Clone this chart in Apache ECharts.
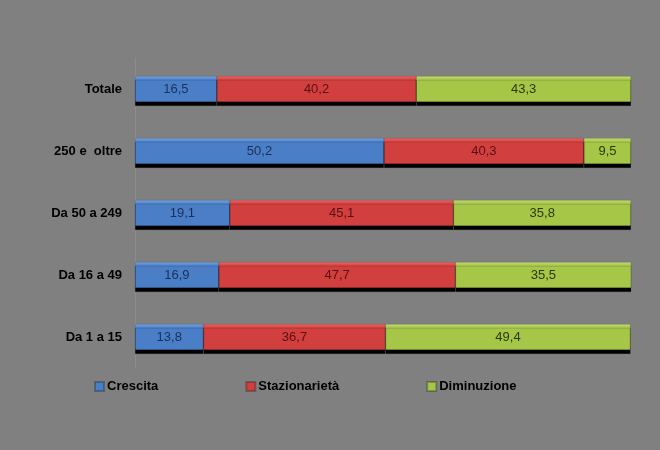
<!DOCTYPE html>
<html><head><meta charset="utf-8">
<script src="https://cdn.jsdelivr.net/npm/echarts@6/dist/echarts.min.js"></script>
<style>html,body{margin:0;padding:0;background:#808080;}#c{width:660px;height:450px;}</style>
</head><body><div id="c"></div>
<script>
var categories = ['Da 1 a 15', 'Da 16 a 49', 'Da 50 a 249', '250 e  oltre', 'Totale'];
var crescita = [13.8, 16.9, 19.1, 50.2, 16.5];
var stazionarieta = [36.7, 47.7, 45.1, 40.3, 40.2];
var diminuzione = [49.4, 35.5, 35.8, 9.5, 43.3];
var seriesNames = ['Crescita', 'Stazionarietà', 'Diminuzione'];

function grad(top, bot) {
  return new echarts.graphic.LinearGradient(0, 0, 0, 1, [
    {offset: 0, color: top}, {offset: 0.15, color: bot}, {offset: 1, color: bot}
  ]);
}
var fills = [grad('#7aa6e0', '#4a7fc8'), grad('#ee6a68', '#d23f3f'), grad('#c2dc74', '#a6c648')];
var legendColors = ['#4a7fc8', '#d23f3f', '#a6c648'];
var labelColors = ['#1a2f5a', '#5a1010', '#2a3a08'];
var datasets = [crescita, stazionarieta, diminuzione];

var chart = echarts.init(document.getElementById('c'), null, {renderer: 'canvas'});
chart.setOption({
  backgroundColor: '#808080',
  animation: false,
  grid: {left: 135, right: 29, top: 58, bottom: 82},
  xAxis: {type: 'value', min: 0, max: 100, show: false},
  yAxis: {
    type: 'category', data: categories,
    axisLine: {show: true, lineStyle: {color: '#8c8c8c', width: 1}},
    axisTick: {show: false},
    axisLabel: {color: '#000', fontWeight: 'bold', fontSize: 13, fontFamily: 'Liberation Sans', margin: 13}
  },
  legend: {
    bottom: 52, left: 89, itemGap: 87, itemWidth: 9, itemHeight: 9, icon: 'rect',
    textStyle: {color: '#000', fontWeight: 'bold', fontSize: 13, fontFamily: 'Liberation Sans', padding: [0, 0, 0, -2]},
    data: seriesNames.map(function (n, i) { return {name: n, itemStyle: {color: legendColors[i]}}; })
  },
  series: datasets.map(function (d, i) {
    return {
      name: seriesNames[i], type: 'bar', stack: 'tot', barWidth: 26,
      data: d, color: legendColors[i],
      itemStyle: {color: fills[i], shadowColor: '#000', shadowOffsetY: 4, shadowOffsetX: 0, shadowBlur: 0, borderColor: 'rgba(0,0,0,0.25)', borderWidth: 0.5},
      label: {show: true, position: 'inside', color: labelColors[i], fontSize: 13, fontFamily: 'Liberation Sans',
        formatter: function (p) { return String(p.value.toFixed(1)).replace('.', ','); }}
    };
  })
});
</script></body></html>
